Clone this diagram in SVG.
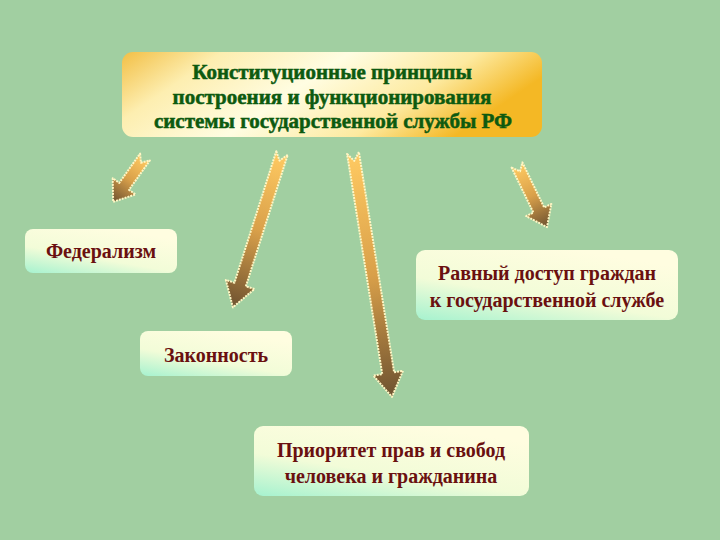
<svg xmlns="http://www.w3.org/2000/svg" width="720" height="540" viewBox="0 0 720 540">
<defs>
<linearGradient id="titleGrad" x1="0" y1="0" x2="1" y2="0.3">
<stop offset="0" stop-color="#f2bf45"/>
<stop offset="0.22" stop-color="#fdeeb0"/>
<stop offset="0.5" stop-color="#fffde2"/>
<stop offset="0.78" stop-color="#fdeaa0"/>
<stop offset="1" stop-color="#f4b825"/>
</linearGradient>
<linearGradient id="nodeGrad" x1="0" y1="1" x2="0.6" y2="0">
<stop offset="0" stop-color="#a6f2cf"/>
<stop offset="0.45" stop-color="#f2fcd8"/>
<stop offset="1" stop-color="#fffde0"/>
</linearGradient>
<linearGradient id="arrowGrad" x1="0" y1="0" x2="0" y2="1">
<stop offset="0" stop-color="#ffca62"/>
<stop offset="0.5" stop-color="#d9a04a"/>
<stop offset="1" stop-color="#6e5230"/>
</linearGradient>
<style>
.bg{fill:#a1cfa1}
.title{fill:url(#titleGrad)}
.node{fill:url(#nodeGrad)}
.tt{font-family:"Liberation Serif","Times New Roman",serif;font-weight:bold;font-size:21px;fill:#0d5a10;stroke:#0d5a10;stroke-width:0.5;text-anchor:middle}
.nt{font-family:"Liberation Serif","Times New Roman",serif;font-weight:bold;font-size:20px;fill:#6a1010;text-anchor:middle}
.arrow{fill:url(#arrowGrad);stroke:#fff6c4;stroke-width:2;stroke-dasharray:2 1;stroke-linejoin:round}
</style>
</defs>
<rect class="bg" x="0" y="0" width="720" height="540"/>

<g id="title">
<rect class="title" x="122" y="52" width="420" height="85" rx="11"/>
<text class="tt" x="332" y="79">Конституционные принципы</text>
<text class="tt" x="332" y="104">построения и функционирования</text>
<text class="tt" x="333" y="128">системы государственной службы РФ</text>
</g>

<g id="federalism">
<rect class="node" x="25" y="229" width="152" height="44" rx="8"/>
<text class="nt" x="101" y="258">Федерализм</text>
</g>

<g id="zakonnost">
<rect class="node" x="140" y="331" width="152" height="45" rx="8"/>
<text class="nt" x="216" y="362">Законность</text>
</g>

<g id="ravny">
<rect class="node" x="416" y="250" width="262" height="70" rx="9"/>
<text class="nt" x="547" y="280">Равный доступ граждан</text>
<text class="nt" x="547" y="307">к государственной службе</text>
</g>

<g id="prioritet">
<rect class="node" x="254" y="426" width="275" height="70" rx="9"/>
<text class="nt" x="391" y="457">Приоритет прав и свобод</text>
<text class="nt" x="391" y="483">человека и гражданина</text>
</g>

<g id="connectors">
<path class="arrow" transform="translate(145,157) rotate(35.4)" d="M-6,0 L0,7 L6,0 L6,36 L14,36 L0,55 L-14,36 L-6,36 Z"/>
<path class="arrow" transform="translate(282,153) rotate(17.65)" d="M-6,0 L0,8 L6,0 L6,138 L15,138 L0,162 L-15,138 L-6,138 Z"/>
<path class="arrow" transform="translate(353,153) rotate(-9.08)" d="M-6,0 L0,8 L6,0 L6,223 L15,223 L0,247 L-15,223 L-6,223 Z"/>
<path class="arrow" transform="translate(517,165) rotate(-25.8)" d="M-6,0 L0,7 L6,0 L6,50 L14,50 L0,69 L-14,50 L-6,50 Z"/>
</g>
</svg>
